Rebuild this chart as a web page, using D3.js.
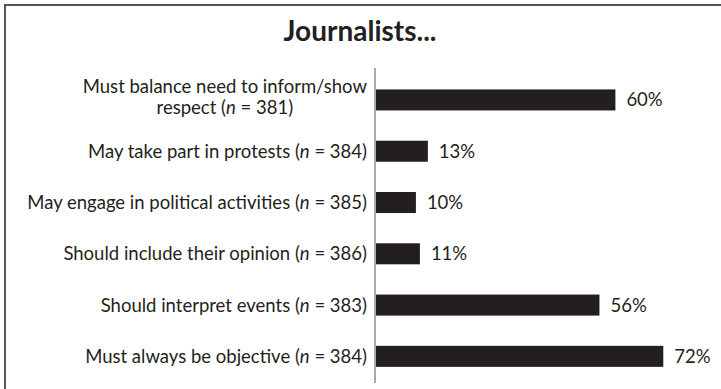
<!DOCTYPE html>
<html>
<head>
<meta charset="utf-8">
<script src="https://cdn.jsdelivr.net/npm/d3@7"></script>
<style>
  html, body { margin: 0; padding: 0; background: #fff; }
  svg { display: block; }
  text { font-family: Lato, "Open Sans", sans-serif; fill: #231f20; }
</style>
</head>
<body>
<svg id="chart" width="721" height="389"></svg>
<script>
// Survey items, top to bottom: label lines, sample size, share agreeing (%)
const labelLines = [
  ["Must balance need to inform/show", "respect"],
  ["May take part in protests"],
  ["May engage in political activities"],
  ["Should include their opinion"],
  ["Should interpret events"],
  ["Must always be objective"]
];
const sampleSizes = [381, 384, 385, 386, 383, 384];
const values = [60, 13, 10, 11, 56, 72];
const title = "Journalists...";

const svg = d3.select("#chart");
const W = 721, H = 389;
const fs = 18.5;

// Frame around the chart (open at the right and bottom edges)
svg.append("path")
  .attr("d", `M5,${H} L5,5 L${W},5`)
  .attr("fill", "none")
  .attr("stroke", "#555")
  .attr("stroke-width", 2);

svg.append("text")
  .attr("x", 360).attr("y", 41)
  .attr("text-anchor", "middle")
  .style("font-size", "28px")
  .style("font-weight", "bold")
  .text(title);

const idx = d3.range(values.length);
const x0 = 376;
const x = d3.scaleLinear().domain([0, 100]).range([x0, x0 + 399]);
const y = d3.scaleBand().domain(idx).range([74.3, 382]).paddingInner(0.59).paddingOuter(0.295);

// Category axis line
svg.append("line")
  .attr("x1", 375).attr("x2", 375)
  .attr("y1", 68).attr("y2", 383)
  .attr("stroke", "#8c8c8c")
  .attr("stroke-width", 1.5);

// Bars
svg.append("g").selectAll("rect")
  .data(idx)
  .join("rect")
  .attr("x", x(0))
  .attr("y", i => y(i))
  .attr("width", i => x(values[i]) - x(0))
  .attr("height", y.bandwidth())
  .attr("fill", "#231f20");

// Value labels
svg.append("g").selectAll("text")
  .data(idx)
  .join("text")
  .attr("x", i => x(values[i]) + 11)
  .attr("y", i => y(i) + y.bandwidth() / 2 + 6.5)
  .style("font-size", fs + "px")
  .text(i => values[i] + "%");

// Category labels with italic n
function addN(t, i) {
  t.append("tspan").text(" (");
  t.append("tspan").style("font-style", "italic").text("n");
  t.append("tspan").text(" = " + sampleSizes[i] + ")");
}

const labelX = 367;
idx.forEach(i => {
  const lines = labelLines[i];
  const cy = y(i) + y.bandwidth() / 2;
  if (lines.length === 1) {
    const t = svg.append("text")
      .attr("x", labelX).attr("y", cy + 6.5)
      .attr("text-anchor", "end")
      .style("font-size", fs + "px");
    t.append("tspan").text(lines[0]);
    addN(t, i);
  } else {
    // Wrapped label: lines centred on the widest line, which ends at labelX
    const first = svg.append("text")
      .attr("y", cy - 7)
      .attr("text-anchor", "middle")
      .style("font-size", fs + "px")
      .text(lines[0]);
    const w = first.node().getComputedTextLength();
    const cx = labelX - w / 2;
    first.attr("x", cx);
    const second = svg.append("text")
      .attr("x", cx).attr("y", cy + 14.5)
      .attr("text-anchor", "middle")
      .style("font-size", fs + "px");
    second.append("tspan").text(lines[1]);
    addN(second, i);
  }
});
</script>
</body>
</html>
